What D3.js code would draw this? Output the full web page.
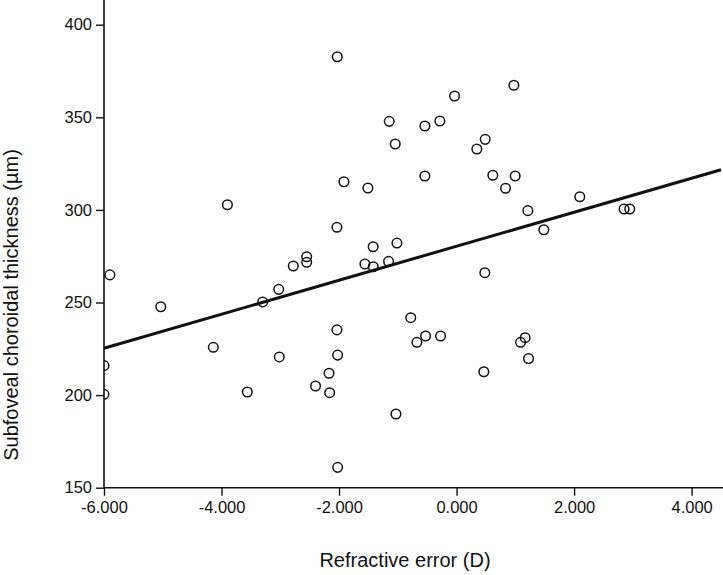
<!DOCTYPE html>
<html>
<head>
<meta charset="utf-8">
<script src="https://cdn.jsdelivr.net/npm/d3@7"></script>
<style>
  html, body { margin: 0; padding: 0; background: #fff; }
  svg { display: block; }
  text { font-family: "Liberation Sans", Arial, Helvetica, sans-serif; fill: #111; }
</style>
</head>
<body>
<svg id="chart" width="723" height="575"></svg>
<script>
// Data
const refractiveError = [
  -2.03, -1.146, -0.539, -0.284, -1.044, -0.539, -1.917, -1.509, -3.90, -2.036,
  -1.42, -1.015, -0.034, -2.551, -2.551, -2.779, -1.56, -1.418, -1.157, -3.027,
  -3.30, -4.14, -3.017, -3.561, -2.036, -2.024, -2.17, -2.40, -2.16, -2.024,
  -1.032, -0.78, -0.675, -0.527, -0.272, 0.975, 0.487, 0.345, 0.617, 0.997,
  0.833, 1.213, 2.097, 1.485, 2.85, 2.947, 0.481, 1.167, 1.088, 1.224,
  0.464, -5.90, -5.034, -6.0, -6.0
];
const choroidalThickness = [
  382.7, 347.8, 345.3, 348.0, 335.6, 318.3, 315.2, 311.8, 302.8, 290.6,
  280.1, 282.1, 361.5, 274.7, 271.7, 269.7, 270.8, 269.3, 272.2, 257.1,
  250.3, 225.8, 220.6, 201.7, 235.2, 221.6, 211.8, 204.9, 201.3, 161.0,
  189.8, 241.8, 228.5, 231.9, 231.9, 367.3, 338.1, 332.9, 318.7, 318.3,
  311.7, 299.6, 307.1, 289.3, 300.5, 300.5, 266.1, 231.0, 228.5, 219.7,
  212.6, 264.9, 247.7, 215.9, 200.4
];
// Fit line endpoints (as drawn)
const fitX = [-6.0, 4.5];
const fitY = [225.3, 321.7];
const xTicks = [-6, -4, -2, 0, 2, 4];
const xTickLabels = ["-6.000", "-4.000", "-2.000", "0.000", "2.000", "4.000"];
const yTicks = [150, 200, 250, 300, 350, 400];
const xTitle = "Refractive error (D)";
const yTitle = "Subfoveal choroidal thickness (\u00b5m)";

const svg = d3.select("#chart");
const plotLeft = 104, plotRight = 721, plotTop = 0, plotBottom = 487.7;

const x = d3.scaleLinear().domain([-6, 4.5]).range([plotLeft, plotRight]);
const y = d3.scaleLinear().domain([150, 400]).range([plotBottom, 24.7]);

svg.append("defs").append("clipPath").attr("id", "plotClip")
  .append("rect").attr("x", plotLeft).attr("y", plotTop)
  .attr("width", 723 - plotLeft).attr("height", plotBottom - plotTop);

// Axes
const xAxis = d3.axisBottom(x).tickValues(xTicks).tickSize(8).tickPadding(6)
  .tickFormat((d, i) => xTickLabels[i]);
const yAxis = d3.axisLeft(y).tickValues(yTicks).tickSize(8).tickPadding(4)
  .tickFormat(d3.format("d"));

const gx = svg.append("g").attr("transform", `translate(0,${plotBottom})`).call(xAxis);
gx.select(".domain").remove();
gx.append("line").attr("x1", plotLeft).attr("x2", 723).attr("y1", 0).attr("y2", 0)
  .attr("stroke", "#111").attr("stroke-width", 1.6);
gx.selectAll(".tick line").attr("stroke", "#111").attr("stroke-width", 1.4);
gx.selectAll(".tick text").attr("font-size", 16.5).attr("fill", "#111")
  .attr("font-family", "Liberation Sans, Arial, sans-serif");

const gy = svg.append("g").attr("transform", `translate(${plotLeft},0)`).call(yAxis);
gy.select(".domain").remove();
gy.append("line").attr("x1", 0).attr("x2", 0).attr("y1", 0).attr("y2", plotBottom)
  .attr("stroke", "#111").attr("stroke-width", 1.6);
gy.selectAll(".tick line").attr("stroke", "#111").attr("stroke-width", 1.4);
gy.selectAll(".tick text").attr("font-size", 16.5).attr("fill", "#111")
  .attr("font-family", "Liberation Sans, Arial, sans-serif");

// Points
const pts = refractiveError.map((d, i) => ({ x: d, y: choroidalThickness[i] }));
svg.append("g").attr("clip-path", "url(#plotClip)")
  .selectAll("circle").data(pts).join("circle")
  .attr("cx", d => x(d.x)).attr("cy", d => y(d.y)).attr("r", 4.8)
  .attr("fill", "none").attr("stroke", "#111").attr("stroke-width", 1.5);

// Fit line
const line = d3.line().x(d => x(d[0])).y(d => y(d[1]));
svg.append("path").datum(fitX.map((d, i) => [d, fitY[i]]))
  .attr("d", line).attr("fill", "none").attr("stroke", "#111").attr("stroke-width", 3);

// Titles
svg.append("text").attr("x", 405).attr("y", 567).attr("text-anchor", "middle")
  .attr("font-size", 20).text(xTitle);
svg.append("text").attr("transform", "translate(18,305) rotate(-90)")
  .attr("text-anchor", "middle").attr("font-size", 20).text(yTitle);
</script>
</body>
</html>
